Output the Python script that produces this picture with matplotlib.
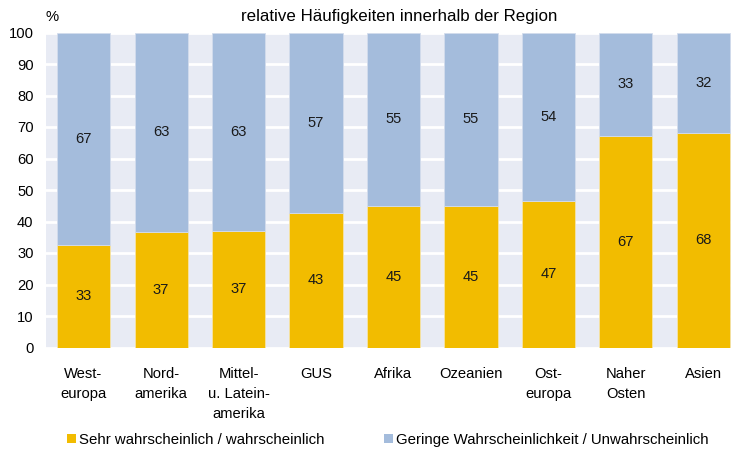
import matplotlib
matplotlib.use("Agg")
import matplotlib.pyplot as plt
from matplotlib.patches import Patch
import numpy as np

plt.rcParams['font.family'] = ['Liberation Sans', 'DejaVu Sans']

categories = ["West-\neuropa", "Nord-\namerika", "Mittel-\nu. Latein-\namerika", "GUS", "Afrika",
              "Ozeanien", "Ost-\neuropa", "Naher\nOsten", "Asien"]
likely = [32.6, 36.8, 36.9, 42.6, 45.0, 45.0, 46.5, 67.1, 68.1]
unlikely = [67.4, 63.2, 63.1, 57.4, 55.0, 55.0, 53.5, 32.9, 31.9]
likely_labels = [33, 37, 37, 43, 45, 45, 47, 67, 68]
unlikely_labels = [67, 63, 63, 57, 55, 55, 54, 33, 32]
series_names = ["Sehr wahrscheinlich / wahrscheinlich", "Geringe Wahrscheinlichkeit / Unwahrscheinlich"]
yticks = [0, 10, 20, 30, 40, 50, 60, 70, 80, 90, 100]

c_yellow = "#f2bc00"
c_blue = "#a4bcdc"
bg = "#e8ebf4"
fs = 10.6

fig = plt.figure(figsize=(7.31, 4.53), dpi=100)
ax = fig.add_axes([46/731, 1-347.5/453, 685/731, 315/453])
ax.set_facecolor(bg)
x = np.arange(len(categories))
w = 0.684
ax.bar(x, likely, w, color=c_yellow, edgecolor="#f5e3a8", linewidth=0.6, zorder=3)
ax.bar(x, unlikely, w, bottom=likely, color=c_blue, edgecolor="#d3dcec", linewidth=0.6, zorder=3)
for i in range(len(x)):
    ax.text(x[i], likely[i]/2, str(likely_labels[i]), ha="center", va="center", fontsize=fs, color="#1a1a1a", zorder=4)
    ax.text(x[i], likely[i] + unlikely[i]/2, str(unlikely_labels[i]), ha="center", va="center", fontsize=fs, color="#1a1a1a", zorder=4)

ax.set_xlim(-0.484, 8.355)
ax.set_ylim(0, 100)
ax.set_yticks(yticks)
ax.set_yticklabels([str(t) for t in yticks], fontsize=10.6)
ax.set_xticks(x)
ax.set_xticklabels(categories, fontsize=fs, linespacing=1.55, va="top")
ax.tick_params(axis="y", length=0, pad=9)
ax.tick_params(axis="x", length=0, pad=14)
ax.grid(axis="y", color="white", linewidth=2, zorder=1)
ax.set_axisbelow(True)
for s in ax.spines.values():
    s.set_visible(False)

fig.text(399/731, 1-17/453, "relative Häufigkeiten innerhalb der Region", ha="center", va="center", fontsize=12.2)
fig.text(52/731, 1-17/453, "%", ha="center", va="center", fontsize=fs)

handles = [Patch(facecolor=c_yellow, edgecolor="none"), Patch(facecolor=c_blue, edgecolor="none")]
fig.legend(handles, series_names, loc="center", bbox_to_anchor=(388/731, 1-440/453), ncol=2, frameon=False,
           fontsize=10.8, handlelength=0.6, handleheight=0.6, handletextpad=0.2, columnspacing=4.0)

fig.savefig("out.png", dpi=100)
